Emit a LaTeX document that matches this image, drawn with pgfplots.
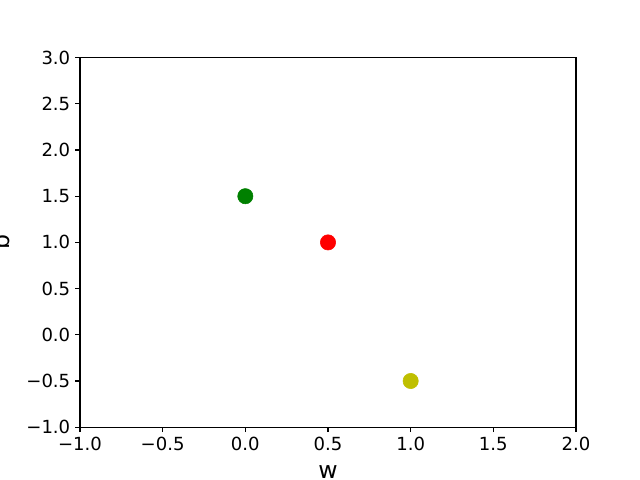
\documentclass[border=0pt]{standalone}
\usepackage{fontspec}
\setmainfont{DejaVu Sans}
\usepackage{pgfplots}
\pgfplotsset{compat=1.18}
\definecolor{mplgreen}{rgb}{0,0.5,0}
\definecolor{mplyellow}{rgb}{0.75,0.75,0}
\begin{document}
\begin{tikzpicture}[x=1pt,y=1pt]
\path[use as bounding box] (0,0) rectangle (460.8,345.6);
\begin{axis}[
  at={(57.6pt,38.016pt)}, anchor=south west,
  scale only axis, width=357.12pt, height=266.11pt,
  xmin=-1, xmax=2, ymin=-1, ymax=3,
  xtick={-1,-0.5,0,0.5,1,1.5,2},
  xticklabels={−1.0,−0.5,0.0,0.5,1.0,1.5,2.0},
  ytick={-1,-0.5,0,0.5,1,1.5,2,2.5,3},
  yticklabels={−1.0,−0.5,0.0,0.5,1.0,1.5,2.0,2.5,3.0},
  tick align=outside, tick pos=lower,
  major tick length=3.5pt,
  every tick/.style={black, line width=0.8pt},
  axis line style={line width=0.8pt},
  tick label style={font=\fontsize{13}{15}\selectfont},
  xlabel={w}, ylabel={b},
  label style={font=\fontsize{17}{19}\selectfont},
  xlabel style={yshift=-4pt},
  ylabel style={yshift=5pt},
  clip=false,
]
\addplot[only marks, mark=*, mark size=5.5pt, mplgreen, mark options={draw=mplgreen, fill=mplgreen}] coordinates {(0,1.5)};
\addplot[only marks, mark=*, mark size=5.5pt, red, mark options={draw=red, fill=red}] coordinates {(0.5,1)};
\addplot[only marks, mark=*, mark size=5.5pt, mplyellow, mark options={draw=mplyellow, fill=mplyellow}] coordinates {(1,-0.5)};
\end{axis}
\end{tikzpicture}
\end{document}
